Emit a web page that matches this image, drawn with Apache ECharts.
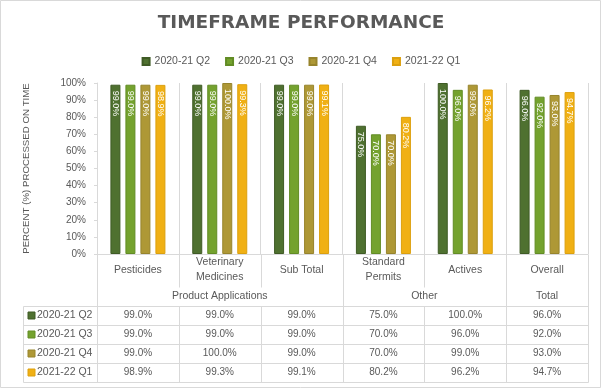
<!DOCTYPE html>
<html>
<head>
<meta charset="utf-8">
<script src="https://cdn.jsdelivr.net/npm/echarts@6/dist/echarts.min.js"></script>
<style>
html,body{margin:0;padding:0;background:#fff;}
#chart{width:602px;height:389px;}
</style>
</head>
<body>
<div id="chart"></div>
<script>
// ---- data ----
const categories = ['Pesticides', 'Veterinary\nMedicines', 'Sub Total', 'Standard\nPermits', 'Actives', 'Overall'];
const groupNames = ['Product Applications', 'Other', 'Total'];
const groupSpans = [3, 2, 1];
const seriesNames = ['2020-21 Q2', '2020-21 Q3', '2020-21 Q4', '2021-22 Q1'];
const q2_2020 = [99.0, 99.0, 99.0, 75.0, 100.0, 96.0];
const q3_2020 = [99.0, 99.0, 99.0, 70.0, 96.0, 92.0];
const q4_2020 = [99.0, 100.0, 99.0, 70.0, 99.0, 93.0];
const q1_2021 = [98.9, 99.3, 99.1, 80.2, 96.2, 94.7];
const yTicks = [0, 10, 20, 30, 40, 50, 60, 70, 80, 90, 100];

// ---- styles ----
const seriesValues = [q2_2020, q3_2020, q4_2020, q1_2021];
const colors = ['#4F7130', '#74A22E', '#AE9836', '#F0B014'];
const borders = ['#3F5B25', '#628C25', '#97842C', '#DCA00E'];
const txt = '#595959';
const lineC = '#D9D9D9';
const FONT = 'Liberation Sans';

const chart = echarts.init(document.getElementById('chart'), null, {renderer: 'canvas'});

const option = {
  animation: false,
  backgroundColor: '#fff',
  textStyle: {fontFamily: FONT},
  title: {
    text: 'TIMEFRAME PERFORMANCE',
    left: 'center',
    top: 9,
    textStyle: {fontFamily: 'DejaVu Sans', fontWeight: 'bold', fontSize: 18.5, color: txt}
  },
  legend: {
    data: seriesNames,
    left: 'center',
    top: 51,
    icon: 'rect',
    itemWidth: 7,
    itemHeight: 7,
    itemGap: 15,
    textStyle: {fontFamily: FONT, fontSize: 10.5, color: txt}
  },
  grid: {left: 97, right: 14, top: 83, bottom: 135, containLabel: false},
  xAxis: {
    type: 'category',
    data: categories,
    axisLine: {show: true, lineStyle: {color: lineC, width: 1}},
    axisTick: {show: false},
    splitLine: {show: true, interval: 0, lineStyle: {color: lineC, width: 1}},
    axisLabel: {
      interval: 0,
      margin: 16,
      verticalAlign: 'middle',
      lineHeight: 15,
      fontFamily: FONT,
      fontSize: 10.5,
      color: txt
    }
  },
  yAxis: {
    type: 'value',
    min: yTicks[0],
    max: yTicks[yTicks.length - 1],
    interval: yTicks[1] - yTicks[0],
    name: 'PERCENT (%) PROCESSED ON TIME',
    nameLocation: 'middle',
    nameGap: 66,
    nameTextStyle: {fontFamily: FONT, fontSize: 9.7, color: txt},
    axisLine: {show: true, lineStyle: {color: lineC, width: 1}},
    axisTick: {show: true, length: 3, lineStyle: {color: lineC}},
    splitLine: {show: false},
    axisLabel: {formatter: '{value}%', margin: 11, fontFamily: FONT, fontSize: 10, color: txt}
  },
  series: seriesNames.map((name, i) => ({
    name: name,
    type: 'bar',
    data: seriesValues[i],
    barWidth: 10,
    barGap: '50%',
    itemStyle: {color: colors[i], borderColor: borders[i], borderWidth: 1},
    label: {
      show: true,
      position: 'insideTop',
      distance: 6,
      rotate: -90,
      align: 'left',
      verticalAlign: 'middle',
      fontFamily: FONT,
      fontSize: 9,
      color: '#ffffff',
      formatter: p => p.value.toFixed(1) + '%'
    }
  }))
};

chart.setOption(option);

function buildTable() {
  const centers = categories.map((c, i) => chart.convertToPixel({xAxisIndex: 0}, i));
  const step = centers[1] - centers[0];
  const bounds = [centers[0] - step / 2].concat(centers.map(c => c + step / 2));
  const axisY = chart.convertToPixel({yAxisIndex: 0}, 0);
  const groupLabelY = axisY + 42;
  const shortLineEnd = axisY + 33;
  const tableTop = axisY + 52;
  const rowH = 19;
  const tableLeft = 23;
  const tableBottom = tableTop + rowH * seriesNames.length;
  const r = v => Math.round(v) + 0.5;
  const els = [];
  const line = (x1, y1, x2, y2) => els.push({
    type: 'line', silent: true,
    shape: {x1: x1, y1: y1, x2: x2, y2: y2},
    style: {stroke: lineC, lineWidth: 1}
  });
  const text = (s, x, y, align, size) => els.push({
    type: 'text', silent: true, x: x, y: y,
    style: {
      text: s, fill: txt, font: size + 'px "' + FONT + '"',
      align: align, verticalAlign: 'middle',
      textAlign: align, textVerticalAlign: 'middle'
    }
  });

  // group boundaries
  const groupEdges = [0];
  groupSpans.forEach(s => groupEdges.push(groupEdges[groupEdges.length - 1] + s));
  // vertical lines below axis
  bounds.forEach((bx, i) => {
    const x = r(bx);
    if (groupEdges.indexOf(i) >= 0) {
      line(x, r(axisY), x, r(tableBottom));
    } else {
      line(x, r(axisY), x, r(shortLineEnd));
      line(x, r(tableTop), x, r(tableBottom));
    }
  });
  // left border of series column
  line(r(tableLeft), r(tableTop), r(tableLeft), r(tableBottom));
  // horizontal rows
  for (let k = 0; k <= seriesNames.length; k++) {
    const y = r(tableTop + k * rowH);
    line(r(tableLeft), y, r(bounds[bounds.length - 1]), y);
  }
  // group labels
  groupNames.forEach((g, gi) => {
    const x0 = bounds[groupEdges[gi]];
    const x1 = bounds[groupEdges[gi + 1]];
    text(g, (x0 + x1) / 2, groupLabelY, 'center', 10.5);
  });
  // table rows
  seriesNames.forEach((name, si) => {
    const cy = tableTop + si * rowH + rowH / 2;
    els.push({
      type: 'rect', silent: true,
      shape: {x: tableLeft + 5, y: Math.round(cy - 3.5), width: 7, height: 7},
      style: {fill: colors[si], stroke: borders[si], lineWidth: 1}
    });
    text(name, tableLeft + 14, cy, 'left', 10.5);
    seriesValues[si].forEach((v, ci) => {
      text(v.toFixed(1) + '%', centers[ci], cy, 'center', 10);
    });
  });
  // outer chart border
  els.push({
    type: 'rect', silent: true,
    shape: {x: 0.5, y: 0.5, width: 600, height: 387},
    style: {fill: 'none', stroke: lineC, lineWidth: 1}
  });
  chart.setOption({graphic: {elements: els}});
}
buildTable();
</script>
</body>
</html>
